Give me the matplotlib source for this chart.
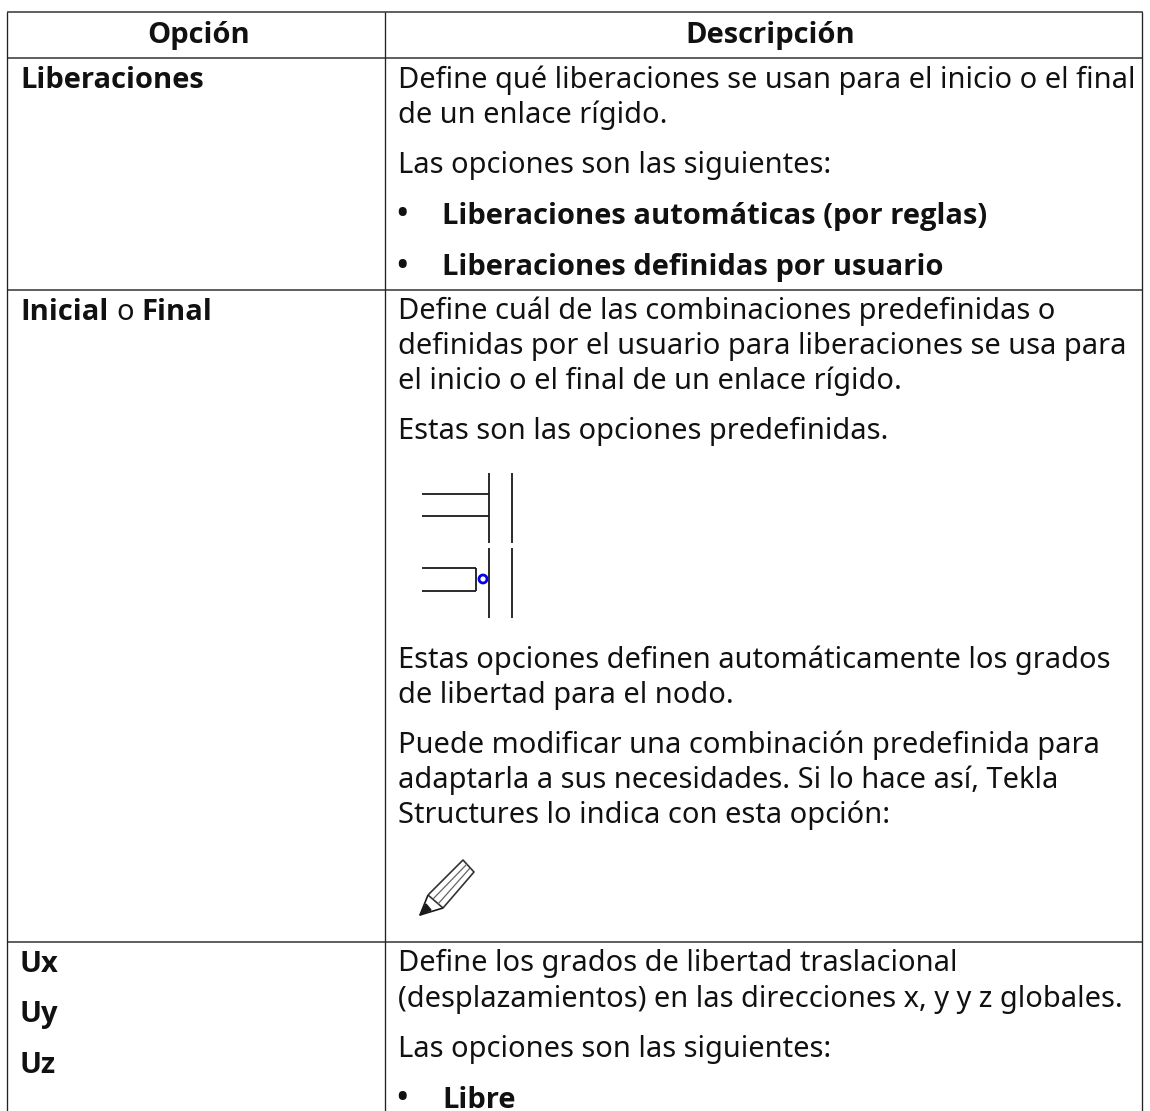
import matplotlib
matplotlib.use("Agg")
import matplotlib.pyplot as plt
from matplotlib.patches import Circle

W, H = 1150, 1111
FS = 20.9
FB = 21.0
INK = "#111111"

headers = ["Opción", "Descripción"]
left_text = [
    (20, 87.5, "Liberaciones", "bold"),
    (20, 319.5, "Inicial", "bold"),
    (116, 319.5, "o", "normal"),
    (141, 319.5, "Final", "bold"),
    (20, 971.5, "Ux", "bold"),
    (20, 1022, "Uy", "bold"),
    (20, 1073, "Uz", "bold"),
]
right_text = [
    (398, 88, "Define qué liberaciones se usan para el inicio o el final", "normal"),
    (398, 123, "de un enlace rígido.", "normal"),
    (398, 173, "Las opciones son las siguientes:", "normal"),
    (442, 224, "Liberaciones automáticas (por reglas)", "bold"),
    (442, 275, "Liberaciones definidas por usuario", "bold"),
    (398, 319.5, "Define cuál de las combinaciones predefinidas o", "normal"),
    (398, 354, "definidas por el usuario para liberaciones se usa para", "normal"),
    (398, 389, "el inicio o el final de un enlace rígido.", "normal"),
    (398, 439, "Estas son las opciones predefinidas.", "normal"),
    (398, 668, "Estas opciones definen automáticamente los grados", "normal"),
    (398, 703, "de libertad para el nodo.", "normal"),
    (398, 753, "Puede modificar una combinación predefinida para", "normal"),
    (398, 788, "adaptarla a sus necesidades. Si lo hace así, Tekla", "normal"),
    (398, 823, "Structures lo indica con esta opción:", "normal"),
    (398, 971.5, "Define los grados de libertad traslacional", "normal"),
    (398, 1006.5, "(desplazamientos) en las direcciones x, y y z globales.", "normal"),
    (398, 1057, "Las opciones son las siguientes:", "normal"),
    (442, 1107.5, "Libre", "bold"),
]
bullets = [(395, 225.5), (395, 276.5), (395, 1109)]
h_rules = [12, 57.5, 290, 942]
v_rules = [7, 385, 1142]

fig = plt.figure(figsize=(W / 100, H / 100), dpi=100)
ax = fig.add_axes([0, 0, 1, 1])
ax.set_xlim(0, W)
ax.set_ylim(H, 0)
ax.axis("off")
plt.rcParams["font.family"] = ["Noto Sans", "DejaVu Sans"]


def put(x, y, s, w, ha="left"):
    fam, size = ("Open Sans", FB) if w == "bold" else ("Noto Sans", FS)
    ax.text(x, y, s, ha=ha, va="baseline", fontsize=size, family=fam, fontweight=w, color=INK)


for y in h_rules:
    ax.plot([7, 1143], [y, y], color="#5e5e5e", lw=1.4, solid_capstyle="butt")
for x in v_rules:
    ax.plot([x, x], [12, H], color="#222222", lw=0.95, solid_capstyle="butt")

put(199, 42.5, headers[0], "bold", ha="center")
put(770.5, 42.5, headers[1], "bold", ha="center")
for x, y, s, w in left_text + right_text:
    put(x, y, s, w)
for x, y in bullets:
    ax.text(x, y, "•", ha="left", va="baseline", fontsize=FS * 1.25, family="Noto Sans", color=INK)

ICON = "#1a1a1a"


def seg(xs, ys, lw=1.3, c=ICON):
    ax.plot(xs, ys, color=c, lw=lw, solid_capstyle="butt")


for x in (489, 512):
    seg([x, x], [473, 543])
    seg([x, x], [548, 618])
for y in (494, 516):
    seg([422, 489], [y, y])
for y in (568, 591):
    seg([422, 476], [y, y])
seg([476, 476], [568, 591])
ax.add_patch(Circle((483, 579), 4.0, fc="white", ec="#0000ee", lw=2.0, zorder=3))

seg([428, 463, 474, 443, 428], [895, 860, 872, 908, 895], lw=1.2, c="#333333")
seg([433, 467], [899, 864], lw=0.9, c="#666666")
seg([438, 470], [904, 868], lw=0.9, c="#666666")
seg([428, 420, 443], [895, 915, 908], lw=1.2)
ax.fill([420, 426, 431], [915, 904, 910], color=ICON)

fig.savefig("out.png", dpi=100)
